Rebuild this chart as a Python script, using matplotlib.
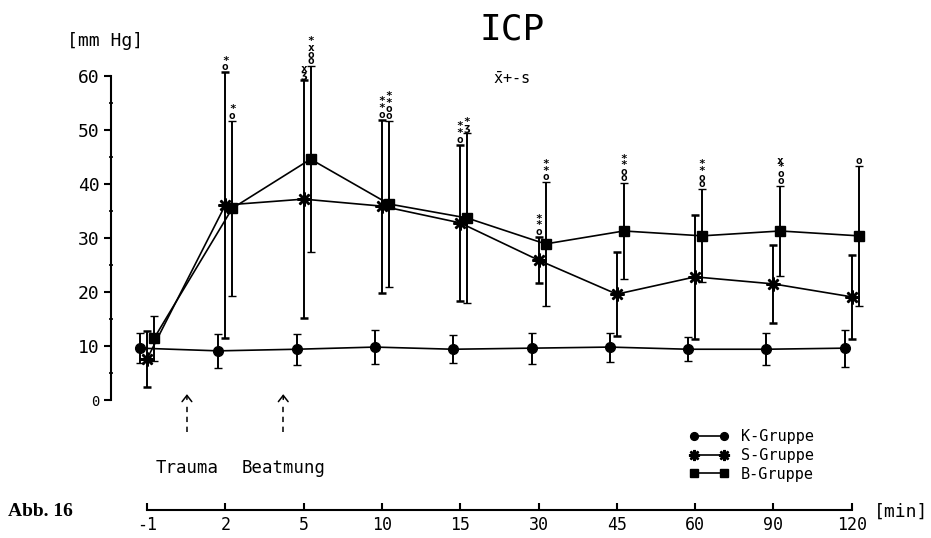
import matplotlib.pyplot as plt
import numpy as np

# ICP über die Zeit, Mittelwert +- Standardabweichung
times = ["-1", "2", "5", "10", "15", "30", "45", "60", "90", "120"]

k_mean = [9.6, 9.1, 9.4, 9.8, 9.4, 9.6, 9.8, 9.4, 9.4, 9.6]
k_sd = [2.8, 3.2, 2.9, 3.1, 2.6, 2.9, 2.7, 2.2, 3.0, 3.4]

s_mean = [7.6, 36.1, 37.2, 35.9, 32.8, 25.9, 19.6, 22.8, 21.5, 19.1]
s_sd = [5.1, 24.6, 22.0, 16.0, 14.5, 4.3, 7.8, 11.5, 7.2, 7.8]

b_mean = [11.4, 35.5, 44.6, 36.3, 33.7, 28.9, 31.3, 30.4, 31.3, 30.4]
b_sd = [4.2, 16.2, 17.2, 15.4, 15.7, 11.4, 8.8, 8.6, 8.4, 13.0]

# Signifikanzzeichen über den Fehlerbalken (von oben nach unten)
s_marks = {1: "*o", 2: "xʒ", 3: "**o", 4: "**o", 5: "**o"}
b_marks = {1: "*o", 2: "*xoo", 3: "**oo", 4: "*ʒ", 5: "**o",
           6: "**oo", 7: "**oo", 8: "x*oo", 9: "o"}

MONO = "DejaVu Sans Mono"
plt.rcParams["font.family"] = [MONO, "DejaVu Sans"]
plt.rcParams["mathtext.fontset"] = "dejavusans"

W, H = 931, 538
fig = plt.figure(figsize=(W / 100, H / 100), dpi=100)
left_px, right_px, top_px, bot_px = 110.5, 910, 20, 530
ax = fig.add_axes([left_px / W, 1 - bot_px / H,
                   (right_px - left_px) / W, (bot_px - top_px) / H])

# Pixel-Geometrie: Kategorie i -> 147 + 78.3*i, Wert v -> 400 - 5.4*v
step, x0, y0, yscale = 78.3, 147, 400, 5.4
ax.set_xlim((left_px - x0) / step, (right_px - x0) / step)
ax.set_ylim((y0 - bot_px) / yscale, (y0 - top_px) / yscale)

x = np.arange(len(times))
off = 7 / step

def draw(xpos, mean, sd, marker, ms, mew=1.0):
    cont = ax.errorbar(xpos, mean, yerr=sd, color="black", lw=1.2,
                       elinewidth=1.4, capsize=3.2, capthick=1.3,
                       marker=marker, ms=ms, mew=mew,
                       mfc="black", mec="black", zorder=3)
    return cont[0]

k_line = draw(x - off, k_mean, k_sd, "o", 7)
s_line = draw(x, s_mean, s_sd, (8, 2, 0), 10, 1.8)
b_line = draw(x + off, b_mean, b_sd, "s", 7.5)

def marks(xpos, mean, sd, table):
    for i, sym in table.items():
        ax.annotate("\n".join(sym), (xpos[i], mean[i] + sd[i]),
                    xytext=(0, 0), textcoords="offset points",
                    ha="center", va="bottom", fontsize=8,
                    fontweight="bold", linespacing=0.58,
                    family=[MONO, "DejaVu Sans"])

marks(x, s_mean, s_sd, s_marks)
marks(x + off, b_mean, b_sd, b_marks)

# Achsen
for side in ("top", "right"):
    ax.spines[side].set_visible(False)
ax.spines["left"].set_bounds(0, 60)
ax.spines["left"].set_linewidth(1.5)
ax.spines["bottom"].set_position(("data", (y0 - 510) / yscale))
ax.spines["bottom"].set_bounds(0, len(times) - 1)
ax.spines["bottom"].set_linewidth(1.5)

ax.set_yticks(np.arange(0, 61, 10))
ax.set_yticks(np.arange(5, 60, 10), minor=True)
ax.tick_params(axis="y", which="major", direction="out", length=5, width=1.5,
               labelsize=13, pad=3)
ax.tick_params(axis="y", which="minor", direction="inout", length=3, width=1.2)
ax.get_yticklabels()[0].set_fontsize(10)

ax.set_xticks(x)
ax.set_xticklabels(times)
ax.tick_params(axis="x", direction="in", length=5, width=1.5,
               labelsize=12, pad=4)

# Ereignispfeile
for pos, label in ((0.51, "Trauma"), (1.74, "Beatmung")):
    ax.plot([pos, pos], [-5.9, -0.6], color="black", lw=1.1,
            linestyle=(0, (3.5, 3)))
    ax.annotate("", xy=(pos, 1.6), xytext=(pos, -0.4),
                arrowprops=dict(arrowstyle="->,head_length=0.45,head_width=0.35",
                                lw=1.1, color="black"))
    ax.text(pos, (y0 - 468) / yscale, label, ha="center", va="center",
            fontsize=12.5)

leg = ax.legend([k_line, s_line, b_line], ["K-Gruppe", "S-Gruppe", "B-Gruppe"],
                numpoints=2, frameon=False, fontsize=11, handlelength=2.6,
                handletextpad=0.8, labelspacing=0.25, markerscale=0.8,
                loc="upper left", borderaxespad=0,
                bbox_to_anchor=(683 / W, 1 - 423 / H),
                bbox_transform=fig.transFigure)

# Beschriftungen
fig.text(512 / W, 1 - 30 / H, "ICP", ha="center", va="center", fontsize=26)
fig.text(512 / W, 1 - 79 / H, r"$\bar{\mathtt{x}}$+-s", ha="center",
         va="center", fontsize=11)
fig.text(105 / W, 1 - 41 / H, "[mm Hg]", ha="center", va="center",
         fontsize=13)
fig.text(901 / W, 1 - 512 / H, "[min]", ha="center", va="center",
         fontsize=13)
fig.text(8 / W, 1 - 511 / H, "Abb. 16", ha="left", va="center",
         fontsize=14, fontweight="bold", family="Liberation Serif")

fig.savefig("out.png", dpi=100)
